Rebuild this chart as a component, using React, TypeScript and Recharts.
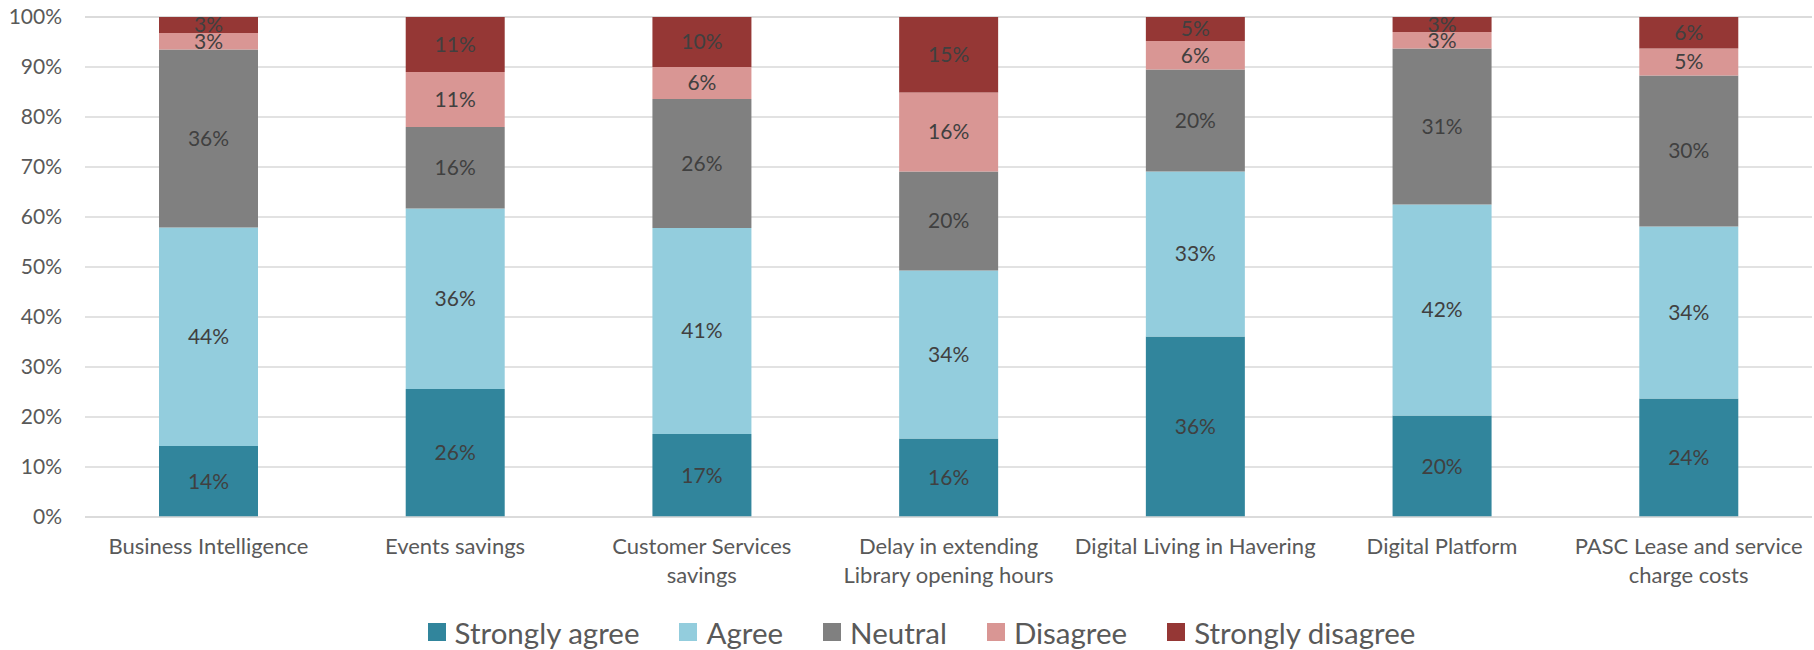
import React from 'react';
import { BarChart, Bar, XAxis, YAxis, CartesianGrid, Legend, LabelList } from 'recharts';

document.body.style.margin = '0';

const categories = [
  'Business Intelligence',
  'Events savings',
  'Customer Services\nsavings',
  'Delay in extending\nLibrary opening hours',
  'Digital Living in Havering',
  'Digital Platform',
  'PASC Lease and service\ncharge costs',
];

const stronglyAgree = [14.2, 25.6, 16.6, 15.7, 36.1, 20.3, 23.7];
const agree = [43.7, 36.1, 41.2, 33.6, 33.0, 42.2, 34.4];
const neutral = [35.6, 16.3, 25.8, 19.8, 20.4, 31.2, 30.2];
const disagree = [3.3, 11.0, 6.4, 15.8, 5.7, 3.3, 5.4];
const stronglyDisagree = [3.2, 11.0, 10.0, 15.1, 4.8, 3.0, 6.3];

const yTicks = [0, 10, 20, 30, 40, 50, 60, 70, 80, 90, 100];

const SERIES = [
  { key: 'sa', name: 'Strongly agree', color: '#31859C', values: stronglyAgree },
  { key: 'a', name: 'Agree', color: '#93CDDD', values: agree },
  { key: 'n', name: 'Neutral', color: '#808080', values: neutral },
  { key: 'd', name: 'Disagree', color: '#D99694', values: disagree },
  { key: 'sd', name: 'Strongly disagree', color: '#953735', values: stronglyDisagree },
];

const data = categories.map((category, i) => {
  const row: Record<string, string | number> = { category };
  SERIES.forEach((s) => { row[s.key] = s.values[i]; });
  return row;
});

const FONT = 'Lato, "Open Sans", sans-serif';
const AXIS_TEXT = '#595959';
const LABEL_TEXT = '#404040';
const GRID = '#D9D9D9';

function CategoryTick({ x, y, payload }: { x: number; y: number; payload: { value: string } }) {
  const lines = String(payload.value).split('\n');
  return (
    <g transform={`translate(${x},${y})`}>
      <text textAnchor="middle" fill={AXIS_TEXT} fontSize={22} fontFamily={FONT}>
        {lines.map((line, i) => (
          <tspan key={i} x={0} y={37 + i * 28.6}>{line}</tspan>
        ))}
      </text>
    </g>
  );
}

function LegendContent() {
  return (
    <div
      style={{
        display: 'flex', justifyContent: 'center', alignItems: 'center',
        height: 40, paddingTop: 4, boxSizing: 'border-box', paddingLeft: 29,
        fontSize: 29.5, color: AXIS_TEXT, fontFamily: FONT,
      }}
    >
      {SERIES.map((s, i) => (
        <div key={s.key} style={{ display: 'flex', alignItems: 'center', marginRight: i < SERIES.length - 1 ? 40 : 0 }}>
          <span style={{ display: 'inline-block', width: 18, height: 18, background: s.color, marginRight: 9 }} />
          <span>{s.name}</span>
        </div>
      ))}
    </div>
  );
}

export default function App() {
  return (
    <div style={{ width: 1814, height: 650, background: '#fff', fontFamily: FONT }}>
      <BarChart
        width={1814}
        height={650}
        data={data}
        margin={{ top: 17, right: 2, left: 0, bottom: 0 }}
      >
        <CartesianGrid vertical={false} stroke={GRID} strokeWidth={1.5} />
        <XAxis
          dataKey="category"
          interval={0}
          height={93}
          tickLine={false}
          tickSize={0}
          tickMargin={0}
          axisLine={{ stroke: GRID, strokeWidth: 1.5 }}
          tick={CategoryTick as any}
        />
        <YAxis
          width={85}
          domain={[0, 100]}
          ticks={yTicks}
          tickFormatter={(v: number) => `${v}%`}
          axisLine={false}
          tickLine={false}
          tickSize={0}
          tickMargin={23}
          tick={{ fill: AXIS_TEXT, fontSize: 21, fontFamily: FONT }}
        />
        <Legend verticalAlign="bottom" content={<LegendContent />} wrapperStyle={{ left: 0, width: 1814 }} />
        {SERIES.map((s) => (
          <Bar key={s.key} dataKey={s.key} name={s.name} stackId="a" fill={s.color} barSize={99} isAnimationActive={false}>
            <LabelList
              dataKey={s.key}
              position="center"
              formatter={(v: number) => `${Math.round(v)}%`}
              fill={LABEL_TEXT}
              fontSize={21}
              fontFamily={FONT}
            />
          </Bar>
        ))}
      </BarChart>
    </div>
  );
}
